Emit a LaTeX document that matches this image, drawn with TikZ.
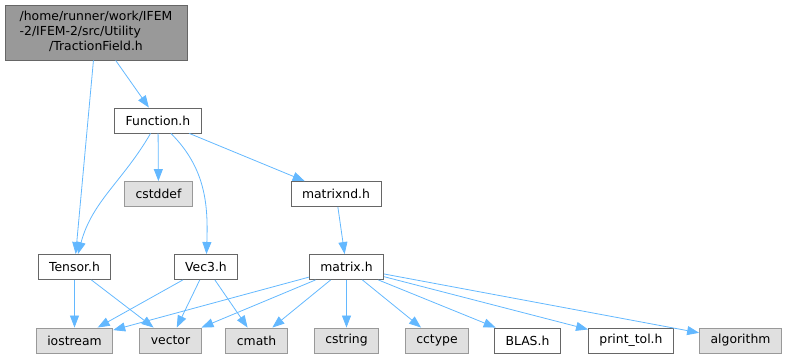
\documentclass[tikz,border=0pt]{standalone}
\usepackage{fontspec}
\setmainfont{DejaVu Sans}
\usetikzlibrary{arrows.meta}
\definecolor{azulenlace}{HTML}{63B8FF}
\definecolor{borde}{HTML}{666666}
\definecolor{bordeclaro}{HTML}{999999}
\definecolor{relleno}{HTML}{E0E0E0}
\definecolor{grisraiz}{HTML}{999999}

\begin{document}
\begin{tikzpicture}[x=1pt, y=-1pt, font=\fontsize{12.4}{14.6}\selectfont,
    fichero/.style={draw=borde, fill=white, line width=0.9pt, minimum height=25pt,
                    inner xsep=11pt, inner ysep=0pt},
    sistema/.style={fichero, draw=bordeclaro, fill=relleno},
    raiz/.style={draw=borde, fill=grisraiz, line width=0.9pt, minimum width=182pt,
                 minimum height=55pt, inner sep=0pt},
    flecha/.style={azulenlace, line width=0.8pt, -{Triangle[length=12pt,width=9pt]}}]
        \useasboundingbox (0,0) rectangle (789,359);
        % fila superior
        \node[raiz] (traction) at (96,32.5) {\begin{tabular}{@{}l@{}}/home/runner/work/IFEM\\-2/IFEM-2/src/Utility\\\multicolumn{1}{@{}c@{}}{/TractionField.h}\end{tabular}};
        \node[fichero] (function) at (158,120.5) {Function.h};
        \node[sistema] (cstddef) at (158.5,194) {cstddef};
        \node[fichero] (matrixnd) at (336,194) {matrixnd.h};
        \node[fichero] (tensor) at (74.5,267) {Tensor.h};
        \node[fichero] (vec3) at (206,267) {Vec3.h};
        \node[fichero] (matrix) at (346.5,267) {matrix.h};
        % cabeceras del sistema y de la biblioteca
        \node[sistema] (iostream) at (74.5,340.5) {iostream};
        \node[sistema] (vector) at (170.5,340.5) {vector};
        \node[sistema] (cmath) at (256.5,340.5) {cmath};
        \node[sistema] (cstring) at (346.5,340.5) {cstring};
        \node[sistema] (cctype) at (437,340.5) {cctype};
        \node[fichero] (blas) at (527.5,340.5) {BLAS.h};
        \node[fichero] (printtol) at (631,340.5) {print\_tol.h};
        \node[sistema] (algorithm) at (740.5,340.5) {algorithm};
        % dependencias
        \draw[flecha] (traction) -- (tensor);
        \draw[flecha] (traction) -- (function);
        \draw[flecha] (function) to[out=-120, in=75] (tensor);
        \draw[flecha] (function) -- (cstddef);
        \draw[flecha] (function) to[out=-45, in=88] (vec3);
        \draw[flecha] (function) -- (matrixnd);
        \draw[flecha] (matrixnd) -- (matrix);
        \draw[flecha] (tensor) -- (iostream);
        \draw[flecha] (tensor) -- (vector);
        \draw[flecha] (vec3) -- (iostream);
        \draw[flecha] (vec3) -- (vector);
        \draw[flecha] (vec3) -- (cmath);
        \foreach \destino in {iostream,vector,cmath,cstring,cctype,blas,printtol,algorithm}
          \draw[flecha] (matrix) -- (\destino);
      \end{tikzpicture}
\end{document}
